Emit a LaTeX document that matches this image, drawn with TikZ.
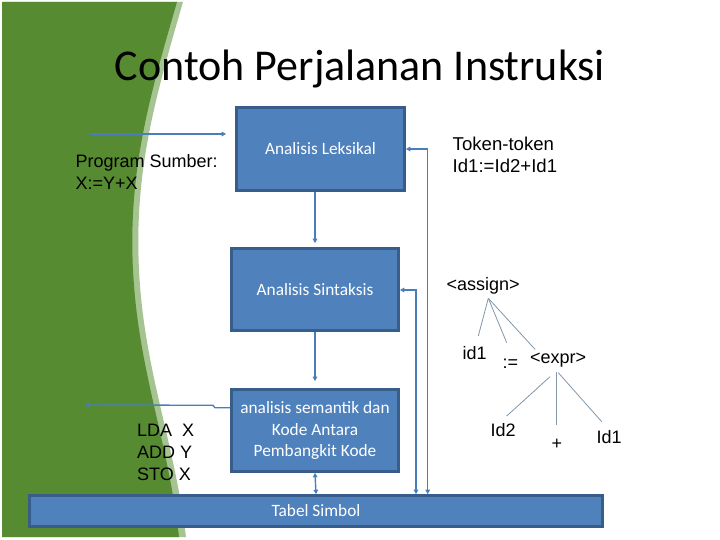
\documentclass[tikz,border=0pt]{standalone}
\usepackage{fontspec}
\setmainfont{Carlito}
\newfontfamily\arialf{Liberation Sans}
\usetikzlibrary{arrows.meta}
\definecolor{dgreen}{RGB}{86,139,49}
\definecolor{lgreen}{RGB}{166,196,146}
\definecolor{boxfill}{RGB}{79,129,189}
\definecolor{boxline}{RGB}{56,93,138}
\definecolor{connc}{RGB}{74,126,187}
\definecolor{treec}{RGB}{130,150,172}
\tikzset{
  box/.style={draw=boxline, fill=boxfill, line width=2.6pt, text=white, inner sep=2pt,
    font=\fontsize{17.3}{21.5}\selectfont, align=center},
  conn/.style={draw=connc, line width=1.4pt, -{Triangle[length=4.5pt,width=4.5pt]}},
  dconn/.style={draw=connc, line width=1.4pt, {Triangle[length=4.5pt,width=4.5pt]}-{Triangle[length=4.5pt,width=4.5pt]}},
  atxt/.style={font=\arialf\fontsize{18}{21.5}\selectfont, inner sep=0pt, anchor=base west, align=left},
  tree/.style={draw=treec, line width=0.8pt}
}
\begin{document}
\begin{tikzpicture}[x=1pt,y=-1pt]
\useasboundingbox (0,0) rectangle (720,540);
\fill[white] (0,0) rectangle (720,540);
% green side panel
\fill[lgreen] (2,2) -- (183,2) .. controls (156,95) and (134,170) .. (139,270) .. controls (144,370) and (174,440) .. (186,537) -- (2,537) -- cycle;
\fill[dgreen] (2,2) -- (177,2) .. controls (150,95) and (128,170) .. (133,270) .. controls (138,370) and (168,440) .. (179,537) -- (2,537) -- cycle;
% title
\node[font=\fontsize{44}{50}\selectfont, inner sep=0pt, anchor=base] (title) at (360,81) {Contoh Perjalanan Instruksi};
% boxes
\node[box, minimum width=168, minimum height=83] (lex) at (320.5,149) {Analisis Leksikal};
\node[box, minimum width=167, minimum height=82] (syn) at (315,289.5) {Analisis Sintaksis};
\node[box, minimum width=167, minimum height=82] (sem) at (315,430.5) {analisis semantik dan\\Kode Antara\\Pembangkit Kode};
\node[box, minimum width=573, minimum height=31] (tab) at (316,511) {Tabel Simbol};
% texts (base anchor = baseline of last line)
\node[atxt] (src) at (75.5,189.3) {Program Sumber:\\X:=Y+X};
\node[atxt, font=\arialf\fontsize{18.6}{21.5}\selectfont] (tok) at (452.5,172.3) {Token-token\\Id1:=Id2+Id1};
\node[atxt, font=\arialf\fontsize{18}{22}\selectfont] (obj) at (137,480.7) {LDA\ \ X\\ADD Y\\STO X};
% connectors
\coordinate (inS) at (90,134);
\draw[conn, shorten >=9pt] (inS) -- (inS -| lex.west);
\draw[conn, shorten >=4pt] (syn.north |- lex.south) -- (syn.north);
\draw[conn, shorten >=7pt] (syn.south) -- (sem.north);
\draw[dconn] (sem.south) -- (tab.north);
\coordinate (outS) at (85,405);
\coordinate (k1) at (215,407.7);
\coordinate (k2) at (213,405.3);
\draw[conn] (sem.west |- k1) -- (k1) -- (k2) -- (outS);
\coordinate (f1) at (427.7,149);
\coordinate (f2) at (416,290);
\draw[dconn] (lex.east |- f1) -- (f1) -- (f1 |- tab.north);
\draw[dconn] (syn.east |- f2) -- (f2) -- (f2 |- tab.north);
% parse tree
\node[atxt] (asg) at (446.5,290) {<assign>};
\node[atxt] (ida) at (462.5,359.3) {id1};
\node[atxt] (ceq) at (502.5,368.5) {:=};
\node[atxt] (expr) at (530,363.3) {<expr>};
\node[atxt] (idb) at (490.5,436.7) {Id2};
\node[atxt] (pls) at (551.5,449) {+};
\node[atxt] (idc) at (596.5,443.3) {Id1};
\coordinate (r0) at (488.3,298.3);
\coordinate (r1) at (478.3,336);
\coordinate (r2) at (506.7,342.7);
\coordinate (r3) at (535,349.3);
\draw[tree] (r0) -- (r1);
\draw[tree] (r0) -- (r2);
\draw[tree] (r0) -- (r3);
\coordinate (e1) at (550,376.7);
\coordinate (e1b) at (506.7,416);
\coordinate (e2) at (556.7,371.7);
\coordinate (e2b) at (556.7,425);
\coordinate (e3) at (558.3,372.7);
\coordinate (e3b) at (601.7,421.7);
\draw[tree] (e1) -- (e1b);
\draw[tree] (e2) -- (e2b);
\draw[tree] (e3) -- (e3b);
\end{tikzpicture}
\end{document}
